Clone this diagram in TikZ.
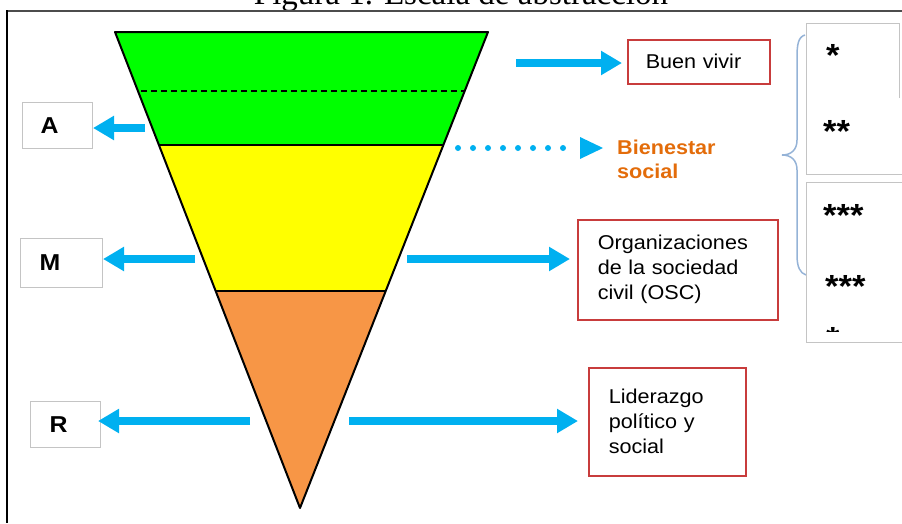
\documentclass[tikz,border=0pt]{standalone}
\usepackage{fontspec}
\setmainfont{Liberation Sans}[FakeStretch=1.08]
\newfontfamily\titlefont{Liberation Serif}
\usetikzlibrary{arrows.meta}
\definecolor{arrowblue}{HTML}{00B0F0}
\definecolor{greenfill}{HTML}{00FF00}
\definecolor{yellowfill}{HTML}{FFFF00}
\definecolor{orangefill}{HTML}{F79646}
\definecolor{boxred}{HTML}{C83C3C}
\definecolor{boxgray}{HTML}{C4C4C4}
\definecolor{bracecol}{HTML}{95B3D7}
\definecolor{bsorange}{HTML}{E36C0A}
\tikzset{
  layer/.style={draw=black, line width=2pt, line join=round},
  graybox/.style={draw=boxgray, line width=1pt, rectangle, anchor=north west, align=left,
     font=\bfseries\fontsize{23}{23}\selectfont, inner ysep=0pt},
  redbox/.style={draw=boxred, line width=1.5pt, rectangle, anchor=north west, align=left,
     font=\fontsize{20}{25}\selectfont, inner ysep=0pt},
  bigarrow/.style={draw=arrowblue, line width=8pt, -{Triangle[width=23pt,length=21pt]}},
  stars/.style={anchor=base west, inner sep=0pt, font=\bfseries\fontsize{32}{32}\selectfont},
}
\begin{document}
\begin{tikzpicture}[x=1pt,y=-1pt]
\useasboundingbox (0,0) rectangle (902,523);
% title (cut at the top, as in the reference)
\node[anchor=base, inner sep=0pt, font=\titlefont\fontsize{33}{33}\selectfont] (title) at (461,4) {Figura 1. Escala de abstracción};
% frame
\draw[draw=black!70, line width=2.5pt] (6,11) -- (902,11);
\draw[draw=black, line width=1.5pt] (7,10) -- (7,523);
% pyramid
\fill[greenfill] (115,32) -- (488,32) -- (443,145) -- (159,145) -- cycle;
\fill[yellowfill] (159,145) -- (443,145) -- (385.5,291) -- (216,291) -- cycle;
\fill[orangefill] (216,291) -- (385.5,291) -- (300,508) -- cycle;
\draw[black, line width=1.5pt, dash pattern=on 6pt off 4pt] (141,91) -- (464,91);
\draw[black, line width=2pt] (159,145) -- (443,145);
\draw[black, line width=2pt] (216,291) -- (385.5,291);
\draw[layer] (115,32) -- (488,32) -- (300,508) -- cycle;
% left boxes
\node[graybox, minimum width=70pt, minimum height=46pt, text width=34pt, inner xsep=18pt] (A) at (22,102) {A};
\node[graybox, minimum width=82pt, minimum height=49pt, text width=44pt, inner xsep=19pt] (M) at (20,238) {M};
\node[graybox, minimum width=70pt, minimum height=46pt, text width=32pt, inner xsep=19pt] (R) at (30,401) {R};
% right boxes
\node[redbox, minimum width=142pt, minimum height=44pt, text width=106pt, inner xsep=18pt] (BV) at (627,39) {Buen vivir};
\node[anchor=north west, align=left, inner sep=0pt, text=bsorange, font=\bfseries\fontsize{20}{24}\selectfont] (BS) at (617,140) {Bienestar\\social};
\node[redbox, minimum width=200pt, minimum height=100pt, text width=160pt, inner xsep=20pt] (OSC) at (577,219) {Organizaciones\\de la sociedad\\civil (OSC)};
\node[redbox, minimum width=157pt, minimum height=108pt, text width=117pt, inner xsep=20pt] (LPS) at (588,367) {Liderazgo\\político y\\social};
% arrow start points
\coordinate (aA) at (145,128);
\coordinate (aM) at (195,259);
\coordinate (aR) at (250,421);
\coordinate (aBV) at (516,63);
\coordinate (aBS) at (458,148);
\coordinate (aOSC) at (407,259);
\coordinate (aLPS) at (349,421);
% left arrows
\draw[bigarrow] (aA) -- (aA -| A.east);
\draw[bigarrow] (aM) -- (aM -| M.east);
\draw[bigarrow, shorten >=-3pt] (aR) -- (aR -| R.east);
% right arrows
\draw[bigarrow, shorten >=5pt] (aBV) -- (aBV -| BV.west);
\draw[bigarrow, shorten >=7pt] (aOSC) -- (aOSC -| OSC.west);
\draw[bigarrow, shorten >=10pt] (aLPS) -- (aLPS -| LPS.west);
% dotted arrow
\draw[arrowblue, line width=6pt, line cap=round, dash pattern=on 0pt off 15pt] (aBS) -- (572,148);
\fill[arrowblue] (580,137) -- (603,148) -- (580,159) -- cycle;
% brace
\draw[bracecol, line width=1.5pt] (805,35) .. controls (798,37) and (797,45) .. (797,58) -- (797,140)
  .. controls (797,150) and (791,155) .. (782,155) .. controls (791,155) and (797,160) .. (797,170)
  -- (797,255) .. controls (797,267) and (800,273) .. (806,275);
% star boxes
\draw[boxgray, line width=1pt] (899,98) -- (899,23) -- (806,23) -- (806,174) -- (902,174);
\draw[boxgray, line width=1pt] (902,182) -- (806,182) -- (806,342) -- (902,342);
\node[stars] (s1) at (826,66) {*};
\node[stars] (s2) at (823,142) {**};
\node[stars] (s3) at (823,226) {***};
\node[stars] (s4) at (825,297) {***};
\begin{scope}
\clip (806,300) rectangle (902,331);
\node[stars] (s5) at (826,349) {*};
\end{scope}
\end{tikzpicture}
\end{document}
